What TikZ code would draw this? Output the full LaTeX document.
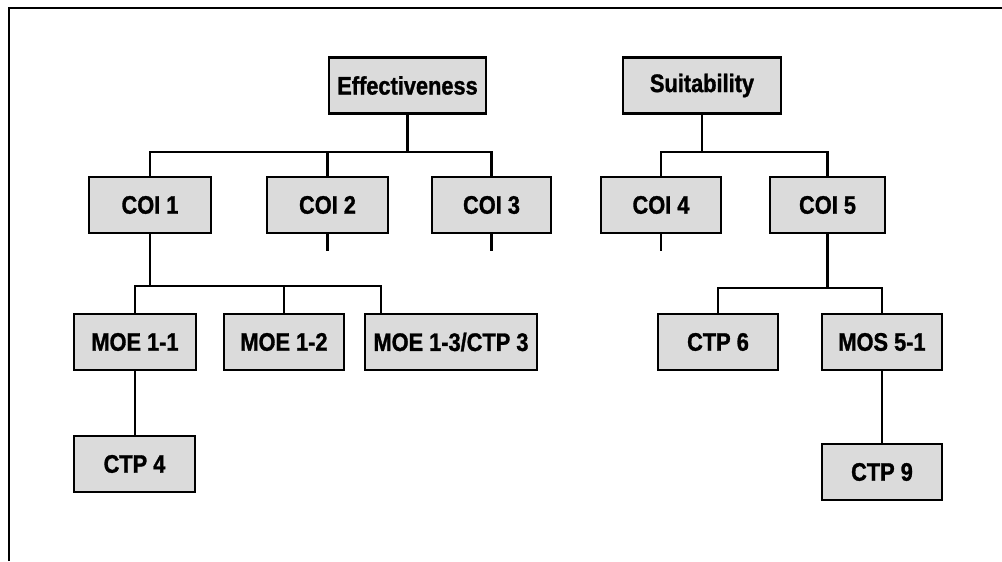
\documentclass[tikz,border=0pt]{standalone}
\usepackage{fontspec}
\setmainfont{Liberation Sans}
\newfontfamily\boxfont[FakeStretch=0.86,FakeBold=1.2]{Liberation Sans Bold}
\begin{document}
\begin{tikzpicture}[x=0.75pt,y=-0.75pt,
  box/.style={draw=black,line width=2pt,fill=black!14,inner sep=0pt,
    minimum height=42pt,font=\boxfont\fontsize{19}{21}\selectfont},
  link/.style={line width=1.6pt,line cap=rect},
  frame/.style={line width=1.6pt}]
\useasboundingbox (0,0) rectangle (1002,561);
\draw[frame] (9,561) -- (9,8) -- (1002,8);
% top level
\node[box,minimum width=117.75pt] (eff) at (407.5,85.5) {Effectiveness};
\node[box,minimum width=118.5pt] (suit) at (702,85.5) {Suitability};
% second level
\node[box,minimum width=91.5pt] (coi1) at (150,205) {COI 1};
\node[box,minimum width=90.75pt] (coi2) at (327.5,205) {COI 2};
\node[box,minimum width=89.25pt] (coi3) at (491.5,205) {COI 3};
\node[box,minimum width=90pt] (coi4) at (661,205) {COI 4};
\node[box,minimum width=86.25pt] (coi5) at (827.5,205) {COI 5};
% third level
\node[box,minimum width=91.5pt] (moe11) at (135,342) {MOE 1-1};
\node[box,minimum width=90pt] (moe12) at (284,342) {MOE 1-2};
\node[box,minimum width=129pt] (moe13) at (451,342) {MOE 1-3/CTP 3};
\node[box,minimum width=90pt] (ctp6) at (718,342) {CTP 6};
\node[box,minimum width=90pt] (mos51) at (882,342) {MOS 5-1};
% fourth level
\node[box,minimum width=90.75pt] (ctp4) at (134.5,464) {CTP 4};
\node[box,minimum width=90pt] (ctp9) at (882,472) {CTP 9};
% bus coordinates
\coordinate (busA) at (0,152);
\coordinate (busB) at (0,286);
\coordinate (busC) at (0,288);
% connectors
\draw[link] (eff.south) -- (eff.south |- busA) -| (coi1.north);
\draw[link] (eff.south |- busA) -| (coi2.north);
\draw[link] (eff.south |- busA) -| (coi3.north);
\draw[link] (suit.south) -- (suit.south |- busA) -| (coi4.north);
\draw[link] (suit.south |- busA) -| (coi5.north);
\draw[link] (coi2.south) -- ++(0,16);
\draw[link] (coi3.south) -- ++(0,16);
\draw[link] (coi4.south) -- ++(0,16);
\draw[link] (coi1.south) -- (coi1.south |- busB) -| (moe11.north);
\draw[link] (coi1.south |- busB) -| (moe12.north);
\draw[link] (coi1.south |- busB) -| ([xshift=-52.5pt]moe13.north);
\draw[link] (coi5.south) -- (coi5.south |- busC) -| (ctp6.north);
\draw[link] (coi5.south |- busC) -| (mos51.north);
\draw[link] (moe11.south) -- (moe11.south |- ctp4.north);
\draw[link] (mos51.south) -- (ctp9.north);
\end{tikzpicture}
\end{document}
